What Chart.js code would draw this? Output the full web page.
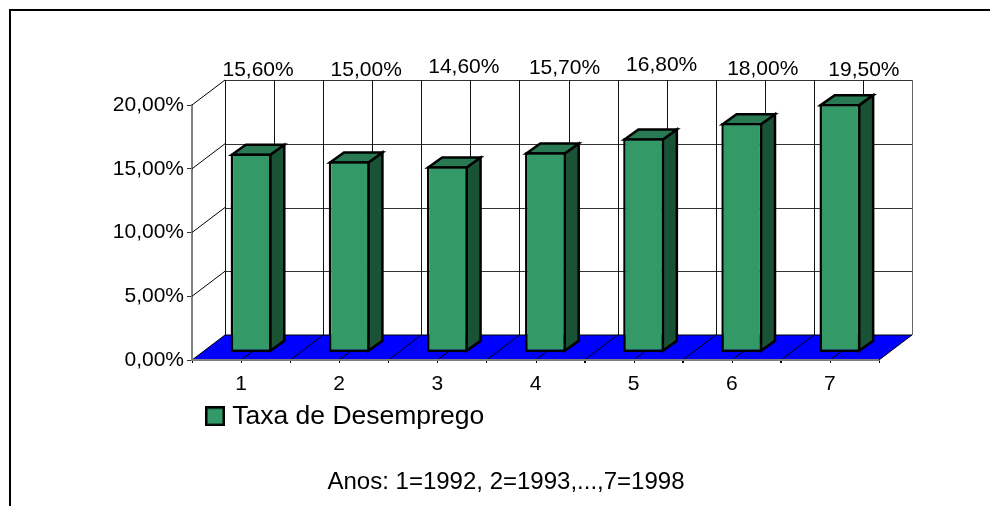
<!DOCTYPE html>
<html>
<head>
<meta charset="utf-8">
<script src="https://cdn.jsdelivr.net/npm/chart.js@4"></script>
<style>
html,body{margin:0;padding:0;background:#fff;overflow:hidden}
canvas{display:block}
</style>
</head>
<body>
<canvas id="c" width="990" height="506"></canvas>
<script>
// Data
const categories = ['1','2','3','4','5','6','7'];
const seriesName = 'Taxa de Desemprego';
const unemployment = [15.6, 15.0, 14.6, 15.7, 16.8, 18.0, 19.5];
const valueLabels = ['15,60%','15,00%','14,60%','15,70%','16,80%','18,00%','19,50%'];
const yTickLabels = ['0,00%','5,00%','10,00%','15,00%','20,00%'];
const footnote = 'Anos: 1=1992, 2=1993,...,7=1998';

// Style / layout
const FONT = '"Liberation Sans", Arial, sans-serif';
const FRONT = '#339966', SIDE = '#1A5235', TOP = '#297A52', FLOOR = '#0000FF';
const WALL = {dx: 33, dy: -25};     // depth of the chart box
const BAR_SHIFT = {dx: 10, dy: -7.5};  // bar placement inside the box
const BAR_DEPTH = {dx: 14, dy: -10};
const BAR_LINE = 2.5;
const labelDx = [17, 27, 26.5, 29, 28, 31, 34];
const labelY = [70.5, 70.5, 67.5, 68.5, 65.5, 69.5, 70.5];

function px(v){ return Math.round(v) + 0.5; }
function line(ctx, x1, y1, x2, y2){ ctx.beginPath(); ctx.moveTo(x1,y1); ctx.lineTo(x2,y2); ctx.stroke(); }

// Legend swatch
const swatch = document.createElement('canvas');
swatch.width = 20; swatch.height = 20;
(function(){ const g = swatch.getContext('2d');
  g.fillStyle = FRONT; g.fillRect(1,1,18,18);
  g.strokeStyle = '#000'; g.lineWidth = 2.5; g.strokeRect(1.25,1.25,17.5,17.5); })();

const scene = {
  id: 'scene',
  afterLayout(chart){
    const l = chart.legend;
    l.left = 205; l.right = 520; l.top = 397; l.bottom = 437;
    const t = chart.titleBlock;
    t.left = 0; t.right = 1012; t.top = 468; t.bottom = 496;
  },
  beforeDraw(chart){
    const ctx = chart.ctx;
    ctx.save();
    ctx.strokeStyle = '#000'; ctx.lineWidth = 2;
    ctx.beginPath(); ctx.moveTo(10,506); ctx.lineTo(10,10); ctx.lineTo(990,10); ctx.stroke();
    ctx.restore();
  },
  beforeDatasetsDraw(chart){
    const ctx = chart.ctx, x = chart.scales.x, y = chart.scales.y;
    const L = x.left, R = x.right, base = y.getPixelForValue(0);
    const half = (R - L) / categories.length / 2;
    ctx.save();
    // back wall: horizontals + side-wall diagonals
    ctx.lineWidth = 1;
    y.ticks.forEach(t => {
      const p = y.getPixelForValue(t.value);
      if (t.value !== 0) {
        ctx.strokeStyle = '#000';
        line(ctx, L, p, L + WALL.dx, p + WALL.dy);
      }
      ctx.strokeStyle = '#333';
      line(ctx, L + WALL.dx, px(p + WALL.dy) , R + WALL.dx, px(p + WALL.dy));
    });
    // back wall: verticals every half category
    const wallTop = y.getPixelForValue(y.max) + WALL.dy, wallBot = base + WALL.dy;
    for (let i = 0; i <= categories.length * 2; i++) {
      const p = L + i * half + WALL.dx;
      ctx.strokeStyle = i === categories.length * 2 ? '#666' : '#111';
      line(ctx, px(p), wallTop, px(p), wallBot);
    }
    // floor
    ctx.fillStyle = FLOOR;
    ctx.beginPath();
    ctx.moveTo(L, base); ctx.lineTo(R, base);
    ctx.lineTo(R + WALL.dx, wallBot); ctx.lineTo(L + WALL.dx, wallBot);
    ctx.closePath(); ctx.fill();
    ctx.strokeStyle = '#000'; ctx.lineWidth = 1;
    ctx.stroke();
    for (let i = 1; i < categories.length * 2; i++) {
      const p = L + i * half;
      line(ctx, p, base, p + WALL.dx, wallBot);
      line(ctx, px(p), base, px(p), base + 3);
    }
    ctx.strokeStyle = '#808080'; ctx.lineWidth = 2;
    line(ctx, L, base, R, base);
    ctx.restore();
  },
  beforeDatasetDraw(chart, args){
    const ctx = chart.ctx;
    ctx.save();
    ctx.translate(BAR_SHIFT.dx, BAR_SHIFT.dy);
    const c = chart.getDatasetMeta(args.index).data;
    const inset = BAR_LINE / 2;
    c.forEach(el => {
      const {x, y, width, base} = el.getProps(['x','y','width','base'], true);
      const r = x + width / 2 - inset, l = x - width / 2 + inset, t = y + inset, b = base - inset;
      const dx = BAR_DEPTH.dx, dy = BAR_DEPTH.dy;
      ctx.lineWidth = BAR_LINE; ctx.strokeStyle = '#000'; ctx.lineJoin = 'miter';
      ctx.fillStyle = SIDE;
      ctx.beginPath(); ctx.moveTo(r,t); ctx.lineTo(r+dx,t+dy); ctx.lineTo(r+dx,b+dy); ctx.lineTo(r,b); ctx.closePath(); ctx.fill(); ctx.stroke();
      ctx.fillStyle = TOP;
      ctx.beginPath(); ctx.moveTo(l,t); ctx.lineTo(l+dx,t+dy); ctx.lineTo(r+dx,t+dy); ctx.lineTo(r,t); ctx.closePath(); ctx.fill(); ctx.stroke();
    });
  },
  afterDatasetDraw(chart){ chart.ctx.restore(); },
  afterDatasetsDraw(chart){
    const ctx = chart.ctx, x = chart.scales.x;
    ctx.save();
    ctx.font = '21px ' + FONT; ctx.fillStyle = '#000';
    ctx.textAlign = 'center'; ctx.textBaseline = 'middle';
    valueLabels.forEach((s, i) => ctx.fillText(s, x.getPixelForValue(i) + labelDx[i], labelY[i]));
    ctx.restore();
  }
};

new Chart(document.getElementById('c'), {
  type: 'bar',
  data: {
    labels: categories,
    datasets: [{
      label: seriesName,
      data: unemployment,
      backgroundColor: FRONT,
      borderColor: '#000',
      borderWidth: BAR_LINE,
      borderSkipped: false,
      barPercentage: 0.417,
      categoryPercentage: 1,
      clip: false
    }]
  },
  options: {
    responsive: false,
    animation: false,
    layout: {padding: {left: 0, right: 111, top: 105, bottom: 0}},
    plugins: {
      tooltip: {enabled: false},
      title: {
        display: true, position: 'bottom', text: footnote, color: '#000',
        font: {family: FONT, size: 24, weight: 'normal', lineHeight: 1.2}, padding: 0
      },
      legend: {
        display: true, position: 'chartArea', align: 'start',
        labels: {
          color: '#000', font: {family: FONT, size: 26.5},
          usePointStyle: true, pointStyle: swatch, pointStyleWidth: 8, padding: 6
        }
      }
    },
    scales: {
      x: {
        type: 'category',
        afterFit(s){ s.height = 506 - 360 - 28.8; },
        border: {color: '#808080', width: 2},
        grid: {drawOnChartArea: false, color: '#000', tickLength: 3, tickColor:'#000'},
        ticks: {color: '#000', font: {family: FONT, size: 21}, padding: 9, maxRotation: 0}
      },
      y: {
        min: 0, max: 20,
        afterFit(s){ s.width = 192; },
        border: {color: '#808080', width: 2},
        grid: {drawOnChartArea: false, color: '#333', tickLength: 5},
        ticks: {
          stepSize: 5, color: '#000', padding: 3,
          font: {family: FONT, size: 21},
          callback(v){ return yTickLabels[v / 5]; }
        }
      }
    }
  },
  plugins: [scene]
});
</script>
</body>
</html>
